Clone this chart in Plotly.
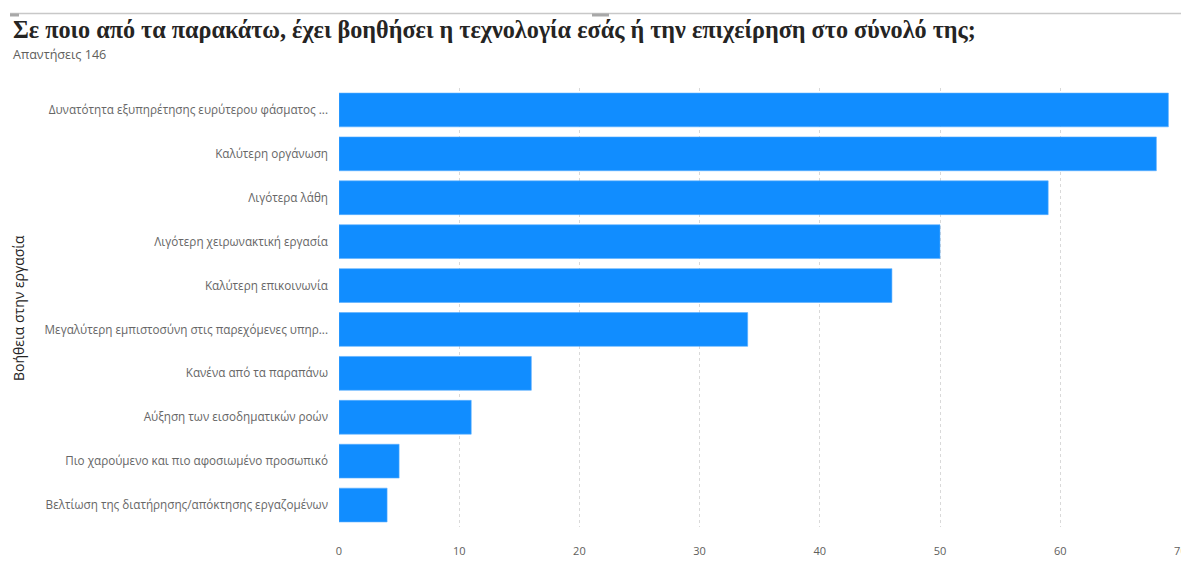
import plotly.graph_objects as go

# Survey answers: how technology has helped the business (multiple choice)
categories = [
    "Δυνατότητα εξυπηρέτησης ευρύτερου φάσματος ...",
    "Καλύτερη οργάνωση",
    "Λιγότερα λάθη",
    "Λιγότερη χειρωνακτική εργασία",
    "Καλύτερη επικοινωνία",
    "Μεγαλύτερη εμπιστοσύνη στις παρεχόμενες υπηρ...",
    "Κανένα από τα παραπάνω",
    "Αύξηση των εισοδηματικών ροών",
    "Πιο χαρούμενο και πιο αφοσιωμένο προσωπικό",
    "Βελτίωση της διατήρησης/απόκτησης εργαζομένων",
]
counts = [69, 68, 59, 50, 46, 34, 16, 11, 5, 4]
x_ticks = [0, 10, 20, 30, 40, 50, 60, 70]

title_text = "Σε ποιο από τα παρακάτω, έχει βοηθήσει η τεχνολογία εσάς ή την επιχείρηση στο σύνολό της;"
subtitle_text = "Απαντήσεις 146"
y_title = "Βοήθεια στην εργασία"

W, H = 1181, 561
L, R, T, B = 339, 0, 88, 34
PW, PH = W - L - R, H - T - B


def px_x(px):
    """Pixel column -> paper x."""
    return (px - L) / PW


def px_y(py):
    """Pixel row (from top) -> paper y."""
    return (H - B - py) / PH


fig = go.Figure(
    go.Bar(
        x=counts,
        y=categories,
        orientation="h",
        marker=dict(color="#118DFF", line=dict(color="#5aaeff", width=0.6)),
        width=0.77,
        hoverinfo="x+y",
    )
)

# visual header: thin border line with two small grip handles
header_shapes = [
    dict(type="line", xref="paper", yref="paper",
         x0=px_x(10), x1=px_x(W), y0=px_y(13.5), y1=px_y(13.5),
         line=dict(color="#c8c8c8", width=1.5)),
    dict(type="rect", xref="paper", yref="paper",
         x0=px_x(10), x1=px_x(19), y0=px_y(16.5), y1=px_y(13.5),
         line=dict(width=0), fillcolor="#a8a8a8"),
    dict(type="rect", xref="paper", yref="paper",
         x0=px_x(592), x1=px_x(609), y0=px_y(16.5), y1=px_y(13.5),
         line=dict(width=0), fillcolor="#a8a8a8"),
]

fig.update_layout(
    width=W,
    height=H,
    margin=dict(l=L, r=R, t=T, b=B, pad=0, autoexpand=False),
    paper_bgcolor="white",
    plot_bgcolor="white",
    showlegend=False,
    font=dict(family="Open Sans, Noto Sans, sans-serif", color="#605E5C"),
    xaxis=dict(
        range=[0, 70.05],
        tickvals=x_ticks,
        ticktext=[str(v) for v in x_ticks],
        showgrid=True,
        gridcolor="#d9d9d9",
        griddash="dot",
        gridwidth=1,
        zeroline=False,
        showline=False,
        ticks="",
        tickfont=dict(size=11, color="#605E5C", family="Liberation Sans Narrow, Open Sans, sans-serif"),
        ticklabelstandoff=16,
        ticklabeloverflow="allow",
        automargin=False,
    ),
    yaxis=dict(
        categoryorder="array",
        categoryarray=categories[::-1],
        showgrid=False,
        zeroline=False,
        showline=False,
        ticks="",
        tickfont=dict(size=11.7, color="#666666"),
        ticklabelstandoff=10,
        automargin=False,
    ),
    shapes=header_shapes,
    annotations=[
        dict(text=f"<b>{title_text}</b>", xref="paper", yref="paper",
             x=px_x(11), y=px_y(30),
             xanchor="left", yanchor="middle", showarrow=False,
             font=dict(family="Liberation Serif, Times New Roman, serif", size=24.2, color="#252423")),
        dict(text=subtitle_text, xref="paper", yref="paper",
             x=px_x(11), y=px_y(54),
             xanchor="left", yanchor="middle", showarrow=False,
             font=dict(size=12.6, color="#605E5C")),
        dict(text=y_title, xref="paper", yref="paper",
             x=px_x(18), y=px_y(308),
             xanchor="center", yanchor="middle", textangle=-90, showarrow=False,
             font=dict(size=14, color="#252423")),
    ],
)

fig.write_html("out.html")
